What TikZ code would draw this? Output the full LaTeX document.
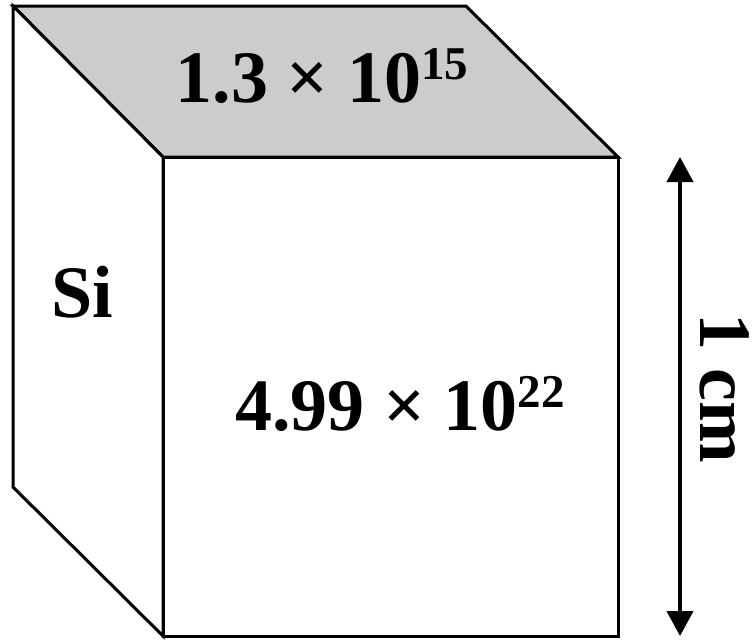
\documentclass[tikz,border=0pt]{standalone}
\usepackage{fontspec}
\setmainfont{Liberation Serif}
\usetikzlibrary{arrows.meta}

\newcommand{\pw}[1]{\raisebox{0.3em}{\fontsize{47}{47}\selectfont #1}}

\begin{document}
\begin{tikzpicture}[x=1pt, y=-1pt,
  face/.style={draw, line width=3pt, line join=miter},
  lbl/.style={font=\fontsize{74}{80}\selectfont\bfseries, inner sep=0pt, anchor=base},
  arr/.style={{Triangle[length=25pt,width=26pt]}-{Triangle[length=25pt,width=26pt]}, line width=4pt}
]
  \useasboundingbox (0,0) rectangle (754,641);

  % cube corners
  \coordinate (tl) at (13,6);
  \coordinate (tr) at (466,6);
  \coordinate (fr) at (618,157);
  \coordinate (fl) at (163,157);
  \coordinate (br) at (618,636);
  \coordinate (bl) at (163,636);
  \coordinate (lb) at (13,487);

  \draw[face, fill=black!20] (tl) -- (tr) -- (fr) -- (fl) -- cycle;
  \draw[face, fill=white] (tl) -- (fl) -- (bl) -- (lb) -- cycle;
  \draw[face, fill=white] (fl) -- (fr) -- (br) -- (bl) -- cycle;

  \node[lbl] (top) at (322,102) {1.3 × 10\pw{15}};
  \node[lbl] (si) at (82,317) {Si};
  \node[lbl] (front) at (400,430) {4.99 × 10\pw{22}};

  % height arrow
  \coordinate (atop) at (680,157);
  \coordinate (abot) at (680,636);
  \draw[arr] (atop) -- (abot);
  \node[lbl, rotate=-90] (len) at (700,388) {1 cm};
\end{tikzpicture}
\end{document}
